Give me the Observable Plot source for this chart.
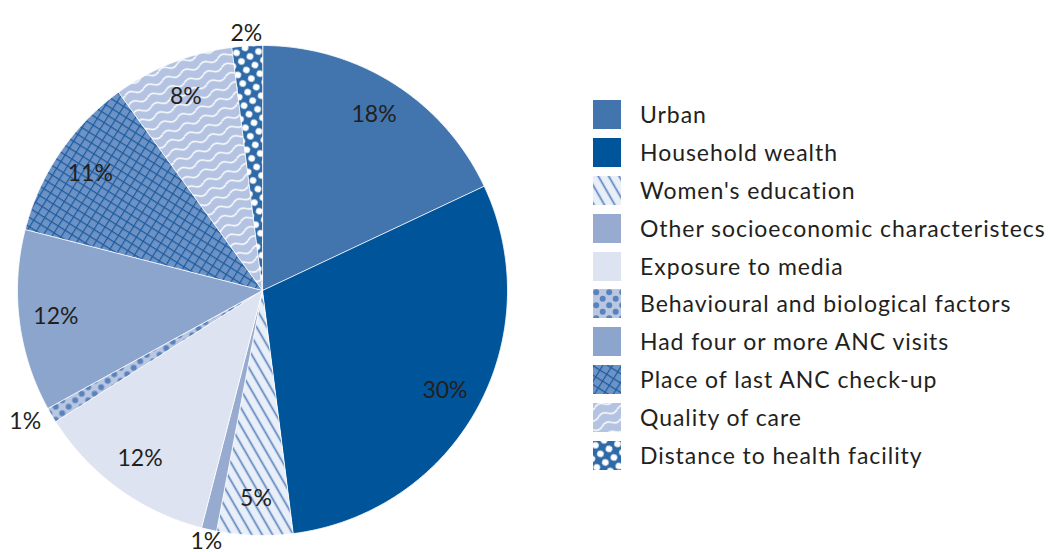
<!DOCTYPE html>
<html>
<head>
<meta charset="utf-8">
<script src="https://cdn.jsdelivr.net/npm/d3@7"></script>
<script src="https://cdn.jsdelivr.net/npm/@observablehq/plot@0.6"></script>
<style>
  html, body { margin: 0; padding: 0; background: #fff; }
  #wrap { position: relative; width: 1050px; height: 552px; overflow: hidden; font-family: Lato, "Open Sans", sans-serif; }
  #chart { position: absolute; left: 0; top: 0; }
  #legend { position: absolute; left: 593px; top: 100px; }
  .row { display: flex; align-items: center; height: 29px; margin-bottom: 8.9px; }
  .row svg { flex: none; display: block; }
  .row span { margin-left: 19px; font-size: 23px; letter-spacing: 0.95px; color: #231f20; white-space: nowrap; line-height: 29px; }
</style>
</head>
<body>
<svg width="0" height="0" style="position:absolute">
  <defs>
    <pattern id="p-stripes" patternUnits="userSpaceOnUse" width="9" height="9" patternTransform="rotate(-30)">
      <rect width="9" height="9" fill="#e9eff8"/>
      <line x1="4.5" y1="-1" x2="4.5" y2="10" stroke="#5b84bd" stroke-width="1.7"/>
    </pattern>
    <pattern id="p-bluedots" patternUnits="userSpaceOnUse" width="13" height="13">
      <rect width="13" height="13" fill="#b9c7e3"/>
      <circle cx="3.2" cy="3.2" r="3" fill="#5a82bb"/>
      <circle cx="9.7" cy="9.7" r="3" fill="#5a82bb"/>
    </pattern>
    <pattern id="p-grid" patternUnits="userSpaceOnUse" width="8" height="8" patternTransform="rotate(32)">
      <rect width="8" height="8" fill="#6d93c6"/>
      <path d="M0 0.6H8M0.6 0V8" stroke="#1b5b9f" stroke-width="1.2" fill="none"/>
    </pattern>
    <pattern id="p-waves" patternUnits="userSpaceOnUse" width="20" height="10" patternTransform="rotate(-22)">
      <rect width="20" height="10" fill="#b4c3e1"/>
      <path d="M0 5 Q5 1 10 5 T20 5" stroke="#ffffff" stroke-width="1.5" fill="none"/>
    </pattern>
    <pattern id="p-whitedots" patternUnits="userSpaceOnUse" width="14" height="14" patternTransform="rotate(15)">
      <rect width="14" height="14" fill="#2f6aa8"/>
      <circle cx="3.5" cy="3.5" r="3.3" fill="#ffffff"/>
      <circle cx="10.5" cy="10.5" r="3.3" fill="#ffffff"/>
    </pattern>
  </defs>
</svg>
<div id="wrap">
  <div id="chart"></div>
  <div id="legend"></div>
</div>
<script>
// ---- Data ----
const categories = [
  "Urban",
  "Household wealth",
  "Women's education",
  "Other socioeconomic characteristecs",
  "Exposure to media",
  "Behavioural and biological factors",
  "Had four or more ANC visits",
  "Place of last ANC check-up",
  "Quality of care",
  "Distance to health facility"
];
const values = [18, 30, 5, 1, 12, 1, 12, 11, 8, 2];
const valueLabels = ["18%", "30%", "5%", "1%", "12%", "1%", "12%", "11%", "8%", "2%"];

// ---- Styles ----
const fills = [
  "#4274ad",
  "#00549a",
  "url(#p-stripes)",
  "#97aad0",
  "#dde3f0",
  "url(#p-bluedots)",
  "#8ba5cd",
  "url(#p-grid)",
  "url(#p-waves)",
  "url(#p-whitedots)"
];

// ---- Geometry derived from data ----
const arcs = d3.pie().sort(null).value(d => d)(values);
const polyPoints = [];
arcs.forEach((a, i) => {
  const n = Math.max(2, Math.ceil((a.endAngle - a.startAngle) / (Math.PI / 360)));
  polyPoints.push({key: i, fill: fills[i], x: 0, y: 0});
  for (let k = 0; k <= n; k++) {
    const t = a.startAngle + (a.endAngle - a.startAngle) * k / n;
    polyPoints.push({key: i, fill: fills[i], x: Math.sin(t), y: Math.cos(t)});
  }
});
const labelData = arcs.map((a, i) => {
  const m = (a.startAngle + a.endAngle) / 2;
  const outside = values[i] <= 2;
  const r = outside ? 1.05 : 0.85;
  const s = Math.sin(m);
  const anchor = outside ? (s < -0.5 ? "end" : s > 0.5 ? "start" : "middle") : "middle";
  return {label: valueLabels[i], x: r * s, y: r * Math.cos(m), anchor};
});

const chart = Plot.plot({
  width: 580,
  height: 552,
  margin: 0,
  style: {background: "transparent", fontFamily: "Lato, 'Open Sans', sans-serif"},
  x: {domain: [-1, 1], range: [17, 507], axis: null},
  y: {domain: [-1, 1], range: [535, 45], axis: null},
  color: {type: "identity"},
  marks: [
    Plot.line(polyPoints, {
      x: "x", y: "y", z: "key",
      fill: "fill",
      stroke: "#ffffff", strokeWidth: 0.8,
      curve: "linear-closed"
    }),
    ...["start", "middle", "end"].map(anchor =>
      Plot.text(labelData.filter(d => d.anchor === anchor), {
        x: "x", y: "y", text: "label",
        fontSize: 23, fill: "#231f20", textAnchor: anchor
      })
    )
  ]
});
document.getElementById("chart").appendChild(chart);

// ---- Legend ----
const legend = document.getElementById("legend");
categories.forEach((c, i) => {
  const row = document.createElement("div");
  row.className = "row";
  row.innerHTML = `<svg width="28" height="29"><rect width="28" height="29" fill="${fills[i]}"/></svg><span>${c}</span>`;
  legend.appendChild(row);
});
</script>
</body>
</html>
